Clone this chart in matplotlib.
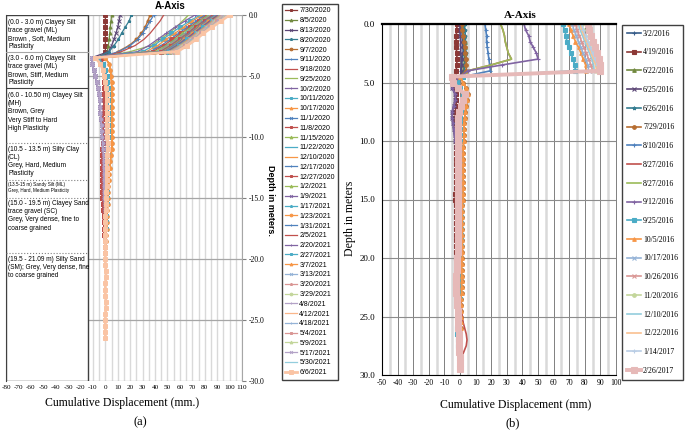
import numpy as np
import matplotlib
matplotlib.use('Agg')
import matplotlib.pyplot as plt
from matplotlib.patches import Rectangle
from matplotlib.ticker import MultipleLocator, FormatStrFormatter

plt.rcParams['axes.unicode_minus'] = False
plt.rcParams['font.family'] = 'Liberation Serif'
SANS = ['Liberation Sans Narrow', 'Liberation Sans']

# ---------------- panel (a) data ----------------
a_dates = ['7/30/2020', '8/5/2020', '8/13/2020', '8/20/2020', '9/7/2020', '9/11/2020',
           '9/18/2020', '9/25/2020', '10/2/2020', '10/11/2020', '10/17/2020', '11/1/2020',
           '11/8/2020', '11/15/2020', '11/22/2020', '12/10/2020', '12/17/2020', '12/27/2020',
           '1/2/2021', '1/9/2021', '1/17/2021', '1/23/2021', '1/31/2021', '2/5/2021',
           '2/20/2021', '2/27/2021', '3/7/2021', '3/13/2021', '3/20/2021', '3/29/2021',
           '4/8/2021', '4/12/2021', '4/18/2021', '5/4/2021', '5/9/2021', '5/17/2021',
           '5/30/2021', '6/6/2021']
a_colors = ['#8c3836', '#71893f', '#5c4776', '#357d91', '#b66d31', '#4f81bd',
            '#c0504d', '#9bbb59', '#8064a2', '#4bacc6', '#f79646', '#4f81bd',
            '#c0504d', '#9bbb59', '#4bacc6', '#f79646', '#4f81bd', '#c0504d',
            '#9bbb59', '#8064a2', '#4bacc6', '#f79646', '#4f81bd', '#c0504d',
            '#8064a2', '#4bacc6', '#f79646', '#95b3d7', '#d99694', '#c3d69b',
            '#b3a2c7', '#fab68a', '#95b3d7', '#d99694', '#c3d69b', '#b3a2c7',
            '#93cddd', '#fac4a4']
a_markers = ['s', '^', 'x', '*', 'o', '+', '', '', '+', 's', '^', 'x',
             's', '^', '', '', '+', 's', '^', 'x', '*', 'o', '+', '',
             '+', 's', '^', 'x', '*', 'o', '+', '', '+', 's', '^', 'x',
             '', 's']

# readings at 0, 0.5, 1.0, 1.5, 2.0, 2.5, 3.0 m
a_depth_top = [0, 0.5, 1.0, 1.5, 2.0, 2.5, 3.0]
a_top = [
    [0, 0, 0, 0, 0, 0, 0],
    [5, 4.5, 4, 3.5, 3, 2.5, 1.5],
    [12, 11, 10, 8.5, 7, 5, 2.5],
    [21, 19, 16, 13, 10.5, 7, 3],
    [36, 34, 32, 29, 25, 19, 10],
    [39, 36, 33, 30, 26, 20, 11],
    [47, 44, 40, 36, 31, 24, 13],
    [67, 62, 57, 51, 44, 37, 20],
    [72, 64, 56, 49, 42, 35, 26],
    [76, 68, 60, 53, 46, 39, 30],
    [78, 70, 63, 56, 49, 42, 33],
    [80, 73, 66, 59, 52, 45, 36],
    [82, 75, 68, 61, 54, 47, 38],
    [83, 76, 69, 62, 56, 49, 40],
    [84, 77, 70, 64, 57, 50, 42],
    [85, 78, 71, 65, 58, 51, 43],
    [86, 79, 72, 66, 59, 52, 44],
    [87, 80, 73, 67, 60, 53, 45],
    [88, 81, 74, 68, 61, 54, 46],
    [88, 81, 75, 68, 62, 55, 47],
    [89, 82, 76, 69, 63, 56, 48],
    [90, 83, 76, 70, 63, 57, 49],
    [90, 84, 77, 71, 64, 57, 49],
    [91, 84, 78, 71, 65, 58, 50],
    [92, 85, 78, 72, 65, 59, 51],
    [92, 86, 79, 73, 66, 59, 51],
    [93, 86, 80, 73, 67, 60, 52],
    [94, 87, 81, 74, 68, 61, 53],
    [94, 88, 81, 75, 68, 62, 53],
    [95, 88, 82, 75, 69, 62, 54],
    [95, 89, 82, 76, 69, 63, 54],
    [96, 89, 83, 76, 70, 63, 55],
    [96, 90, 83, 77, 70, 64, 55],
    [97, 90, 84, 77, 71, 64, 56],
    [97, 91, 84, 78, 71, 65, 56],
    [98, 91, 85, 78, 72, 65, 57],
    [99, 92, 85, 79, 72, 66, 57],
    [100, 93, 86, 79, 73, 66, 58],
]

# readings from 3.5 m to 19.5 m every 0.5 m
a_depth_low = np.arange(3.5, 20.0, 0.5)
a_low_purple = [-11, -10.5, -9.5, -8, -7, -6, -5, -4.5, -4, -4, -3.5, -3, -3, -2.5, -2, -2, -1.5,
                -1.5, -1.5, -1, -1, -1, -1, -1, -0.5, -0.5, -0.5, -0.5, -0.5, 0, 0, 0, 0]
a_low_red = [-3, -2, -1.5, -1, -1, -1, -1, -1, -1.5, -1.5, -2, -2, -2, -2, -2, -2.5, -2.5,
             -2.5, -2.5, -2.5, -2.5, -2.5, -2.5, -2.5, -2, -2, -1.5, -1.5, -1, -1, -0.5, -0.5, 0]
a_low_orange = [0, 3, 4, 4.5, 5, 5, 5, 5, 5, 5, 5, 5, 5, 5.5, 5.5, 5, 4.5,
                4, 3.5, 3, 3, 2.5, 2.5, 2, 2, 1.5, 1.5, 1, 1, 0.5, 0.5, 0, 0]
a_low_mid = [-6, -2, 0, 1, 1.5, 2, 2, 2, 2, 2, 2, 2, 2, 2, 2.5, 2.5, 2,
             2, 1.5, 1.5, 1.5, 1, 1, 1, 1, 0.5, 0.5, 0.5, 0.5, 0, 0, 0, 0]
a_low_light = [-8, -4, -2, -1, 0, 0.5, 1, 1, 1, 1, 1, 1.5, 1.5, 1.5, 2, 2, 1.5,
               1.5, 1, 1, 1, 1, 0.5, 0.5, 0.5, 0.5, 0, 0, 0, 0, 0, 0, 0]
a_profiles = {'purple': a_low_purple, 'red': a_low_red, 'orange': a_low_orange,
              'mid': a_low_mid, 'light': a_low_light}
a_low_kind = ['red', 'mid', 'purple', 'mid', 'orange', 'mid', 'red', 'mid', 'purple', 'mid',
              'orange', 'mid', 'red', 'mid', 'mid', 'orange', 'mid', 'red', 'mid', 'purple',
              'mid', 'orange', 'mid', 'red', 'purple', 'mid', 'orange', 'light', 'light', 'light',
              'purple', 'light', 'light', 'light', 'light', 'purple', 'light', 'light']
# last survey goes deeper
a_depth_tail = np.arange(20.0, 27.0, 0.5)
a_tail = [0, 0, 0.5, 0.5, 0, 0, 0, 0.5, 0.5, 0, 0, 0, 0, 0]

soil_tops = [0.3, 3.25, 6.3, 10.7, 13.65, 15.15, 19.75]
soil_texts = ['(0.0 - 3.0 m) Clayey Silt\ntrace gravel (ML)\nBrown , Soft, Medium\nPlasticity',
              '(3.0 - 6.0 m) Clayey Silt\ntrace gravel (ML)\nBrown, Stiff, Medium\nPlasticity',
              '(6.0 - 10.50 m) Clayey Silt\n(MH)\nBrown, Grey\nVery Stiff to Hard\nHigh Plasticity',
              '(10.5 - 13.5 m) Silty Clay\n(CL)\nGrey, Hard, Medium\nPlasticity',
              '(13.5-15 m) Sandy Silt (ML)\nGrey, Hard, Medium Plasticity',
              '(15.0 - 19.5 m) Clayey Sand\ntrace gravel (SC)\nGrey, Very dense, fine to\ncoarse grained',
              '(19.5 - 21.09 m) Silty Sand\n(SM); Grey, Very dense, fine\nto coarse grained']
soil_sizes = [4.7, 4.7, 4.7, 4.7, 3.3, 4.7, 4.7]
layer_bounds = [3, 6, 10.5, 13.5, 15, 19.5]
layer_styles = ['-', '-', ':', ':', ':', ':']
layer_colors = ['#a6a6a6', '#404040', '#808080', '#808080', '#808080', '#808080']

# ---------------- panel (b) data ----------------
b_dates = ['3/2/2016', '4/19/2016', '6/22/2016', '6/25/2016', '6/26/2016', '7/29/2016',
           '8/10/2016', '8/27/2016', '8/27/2016', '9/12/2016', '9/25/2016', '10/5/2016',
           '10/17/2016', '10/26/2016', '11/20/2016', '12/10/2016', '12/22/2016', '1/14/2017',
           '2/26/2017']
b_colors = ['#385d8a', '#8c3836', '#71893f', '#5c4776', '#357d91', '#b66d31',
            '#4f81bd', '#c0504d', '#9bbb59', '#8064a2', '#4bacc6', '#f79646',
            '#95b3d7', '#d99694', '#c3d69b', '#93cddd', '#fac090', '#b9cde5', '#e6b9b8']
b_markers = ['+', 's', '^', 'x', '*', 'o', '+', '', '', '+', 's', '^',
             'x', 'x', 'o', '', '', '+', 's']

# readings at 0 .. 4.0 m every 0.5 m
b_top = [
    [1, 1, 1.5, 1.5, 2, 2, 1.5, 1, 0.5],
    [-2, -2, -2.5, -2.5, -2.5, -2, -2, -2, -2.5],
    [2, 2, 2.5, 3, 3, 3, 3, 2.5, 2],
    [0, 0, 0, 0.5, 0.5, 0.5, 1, 1, 1],
    [3, 3, 3.5, 3.5, 3.5, 4, 4, 3, 3],
    [1, 1.5, 2, 2.5, 3, 3.5, 4, 4, 4],
    [16, 16.5, 17, 17, 17.5, 18, 18.5, 19, 19.5],
    [26, 27.5, 28.5, 29, 30, 31, 33, 20, 5],
    [26, 27.5, 28.5, 29, 30, 31, 33, 20, 5],
    [41, 42, 44, 45, 47, 49, 50, 27, 5],
    [66, 67, 68, 68.5, 70, 71, 72.5, 73.5, 74],
    [70, 71, 72.5, 74, 76, 77.5, 79, 80.5, 81],
    [72, 73, 74.5, 76, 77.5, 79, 80.5, 82, 82.5],
    [74, 75, 76.5, 78, 79.5, 81, 82.5, 84, 85],
    [78, 79, 80, 81.5, 83, 84.5, 86, 87.5, 88],
    [76, 77, 78.5, 80, 81.5, 83, 84.5, 85.5, 86],
    [77, 78, 79.5, 81, 82.5, 84, 85.5, 87, 87.5],
    [78, 79, 80.5, 82, 83.5, 85, 86.5, 88, 88.5],
    [82, 83, 84, 85, 86.5, 88, 89, 90, 90],
]
# readings from 4.5 m downward every 0.5 m
b_low_pink = [-5, -4.5, -1, 3, 2, 0.5, -0.5, -1, -1, -1.5, -1.5, -1.5, -1.5, -1.5, -1.5,
              -1.5, -1.5, -1.5, -1.5, -1.5, -1.5, -1.5, -1.5, -1.5, -1.5, -1.5, -1.5, -1.5,
              -1.5, -1.5, -1.5, -2, -2, -2, -2.5, -2.5, -2.5, -2.5, -2, -2, -1.5, -1.5, -1,
              -1, -0.5, -0.5, -0.5, -0.5, 0, 0, 0]
b_low_orange = [0, 2, 4, 5, 4.5, 4, 3.5, 3, 2.5, 2.5, 2.5, 2.5, 2, 2, 2, 2, 2, 2, 2, 2,
                2, 2, 1.5, 1.5, 1.5, 1.5, 1.5, 1.5, 1.5, 1.5, 1.5, 1.5, 1, 1, 1, 1, 1, 1,
                0.5, 0.5, 0.5, 0.5, 0.5, 0.5, 0, 0, 0, 0, 0]
b_low_purple = [0, -4, -5, -3, -3, -4, -5, -5, -4.5, -4, -3.5, -3, -2.5, -2, -2, -2, -2,
                -2, -1.5, -1.5, -1.5, -1.5, -1.5, -1.5, -1.5, -1, -1, -1, -1, -1, -1, -1,
                -1, -1, -1, -1, -0.5, -0.5, -0.5, -0.5, -0.5, -0.5, -0.5, -0.5, -0.5, 0, 0,
                0, 0]
b_low_mid = [2, -2, 0, 2, 1.5, 1, 0.5, 0, 0, 0, 0, 0, 0, 0, 0.5, 0.5, 0.5, 0.5, 0.5, 0.5,
             0.5, 0.5, 0.5, 0.5, 0.5, 0.5, 0.5, 0.5, 0.5, 0.5, 0, 0, 0, 0, 0, 0, 0, 0, 0,
             -0.5, -0.5, -1, -1.5, -2, -2, -1.5, -1, -0.5, 0]
b_low_redline = [2, -2, 0, 2, 1.5, 1, 0.5, 0, 0, 0, 0, 0, 0, 0, 0, 0, 0, 0, 0, 0, 0, 0, 0,
                 0, 0, 0, 0, 0, 0, 0, 0, 0, 0, 0, 0.5, 0.5, 0.5, 0.5, 0.5, 1, 1, 1.5, 2, 3,
                 4, 4.5, 4, 2.5, 1]
b_low_darkred = [-3, -3, -2.5, -2.5, -2.5, -2.5, -3, -3, -3, -3, -2.5, -2.5, -2.5, -2.5,
                 -2.5, -2.5, -2.5, -2.5, -2.5, -2.5, -3, -3, -2.5, -2.5, -2.5, -2.5, -2.5,
                 -2.5, -2.5, -2.5, -2.5, -2.5]
b_profiles = {'pink': b_low_pink, 'orange': b_low_orange, 'purple': b_low_purple,
              'mid': b_low_mid, 'redline': b_low_redline, 'darkred': b_low_darkred}
b_low_kind = ['mid', 'darkred', 'mid', 'purple', 'mid', 'orange', 'mid', 'redline', 'mid',
              'purple', 'mid', 'orange', 'pink', 'pink', 'pink', 'pink', 'pink', 'pink', 'pink']
b_depth = np.arange(0, 30, 0.5)

fig = plt.figure(figsize=(6.85, 4.32), dpi=100)

# ================= panel (a) =================
ax = fig.add_axes([6/685, 1-381/432, 236/685, 366/432])
a_lines = []
for i in range(len(a_dates)):
    depth = list(a_depth_top) + list(a_depth_low)
    disp = a_top[i] + a_profiles[a_low_kind[i]]
    if i == len(a_dates) - 1:
        depth += list(a_depth_tail)
        disp = disp + a_tail
        lw, ms = 2.0, 3.2
    else:
        lw, ms = 0.9, 2.2
    mk = a_markers[i] if a_markers[i] else None
    ln, = ax.plot(disp, -np.array(depth), color=a_colors[i], marker=mk, lw=lw, ms=ms, mew=0.7)
    a_lines.append(ln)

ax.set_xlim(-80, 110)
ax.set_ylim(-30, 0)
ax.xaxis.set_major_locator(MultipleLocator(10))
ax.xaxis.set_minor_locator(MultipleLocator(5))
ax.yaxis.set_major_locator(MultipleLocator(5))
ax.yaxis.set_major_formatter(FormatStrFormatter('%.1f'))
ax.yaxis.tick_right()
ax.set_axisbelow(True)
ax.grid(which='both', axis='x', color='#d9d9d9', lw=1.0)
ax.grid(which='major', axis='y', color='#a6a6a6', lw=0.9)
ax.tick_params(axis='x', which='both', length=0, labelsize=5.2, pad=3)
ax.tick_params(axis='y', length=3, color='#808080', labelsize=5.5, pad=2)
for s in ['top', 'bottom']:
    ax.spines[s].set_visible(False)
ax.spines['right'].set_color('#a6a6a6')
ax.spines['left'].set_color('#404040')

# soil description table over the left part of the axes
ax.add_patch(Rectangle((-80, -30), 66, 30, facecolor='white', edgecolor='#404040', lw=1.0, zorder=3))
for d, st, c in zip(layer_bounds, layer_styles, layer_colors):
    ax.plot([-80, -14], [-d, -d], color=c, ls=st, lw=0.8, zorder=4)
for top, txt, fs in zip(soil_tops, soil_texts, soil_sizes):
    ax.text(-78.3, -top, txt, va='top', ha='left', fontsize=fs, family=SANS,
            linespacing=1.25, zorder=5)

fig.text(170/685, 1-6/432, 'A-Axis', ha='center', va='center', fontsize=7,
         fontweight='bold', family=SANS)
fig.text(271/685, 1-200/432, 'Depth in meters.', ha='center', va='center', rotation=270,
         fontsize=6.5, fontweight='bold', family=SANS)
fig.text(122/685, 1-403/432, 'Cumulative Displacement (mm.)', ha='center', va='center', fontsize=8.5)
fig.text(140/685, 1-422/432, '(a)', ha='center', va='center', fontsize=9)

fig.legend(a_lines, a_dates, loc='upper left', bbox_to_anchor=(282/685, 1-4/432),
           bbox_transform=fig.transFigure, prop={'family': SANS, 'size': 5},
           handlelength=1.7, handletextpad=0.3, borderpad=0.5, labelspacing=0.4,
           borderaxespad=0, fancybox=False, edgecolor='#404040', framealpha=1,
           numpoints=1, markerscale=0.9)

# ================= panel (b) =================
bx = fig.add_axes([382/685, 1-375/432, 234/685, 351/432])
b_lines = []
for i in range(len(b_dates)):
    disp = b_top[i] + b_profiles[b_low_kind[i]]
    depth = b_depth[:len(disp)]
    if i == len(b_dates) - 1:
        lw, ms = 2.8, 3.8
    else:
        lw, ms = 1.2, 2.6
    mk = b_markers[i] if b_markers[i] else None
    ln, = bx.plot(disp, depth, color=b_colors[i], marker=mk, lw=lw, ms=ms, mew=0.8)
    b_lines.append(ln)

bx.set_xlim(-50, 100)
bx.set_ylim(30, 0)
bx.xaxis.set_major_locator(MultipleLocator(10))
bx.xaxis.set_minor_locator(MultipleLocator(5))
bx.yaxis.set_major_locator(MultipleLocator(5))
bx.yaxis.set_major_formatter(FormatStrFormatter('%.1f'))
bx.set_axisbelow(True)
bx.grid(which='minor', axis='x', color='#d9d9d9', lw=1.8)
bx.grid(which='major', axis='x', color='#808080', lw=0.7)
bx.grid(which='major', axis='y', color='#8c8c8c', lw=0.8)
bx.tick_params(axis='x', which='both', length=0, labelsize=5.5, pad=3)
bx.tick_params(axis='y', length=0, labelsize=6.5, pad=5)
bx.spines['top'].set_linewidth(1.6)
bx.spines['right'].set_color('#808080')
bx.spines['right'].set_linewidth(0.7)

fig.text(520/685, 1-15/432, 'A-Axis', ha='center', va='center', fontsize=8, fontweight='bold')
fig.text(350/685, 1-218/432, 'Depth in meters', ha='center', va='center', rotation=90, fontsize=8.5)
fig.text(516/685, 1-405/432, 'Cumulative Displacement (mm)', ha='center', va='center', fontsize=8.5)
fig.text(513/685, 1-423/432, '(b)', ha='center', va='center', fontsize=9)

fig.legend(b_lines, b_dates, loc='upper left', bbox_to_anchor=(622/685, 1-25/432),
           bbox_transform=fig.transFigure, prop={'family': 'Liberation Serif', 'size': 5.6},
           handlelength=1.9, handletextpad=0.2, borderpad=0.6, labelspacing=1.38,
           borderaxespad=0, fancybox=False, edgecolor='#404040', framealpha=1,
           numpoints=1)

fig.savefig('out.png', dpi=100)
